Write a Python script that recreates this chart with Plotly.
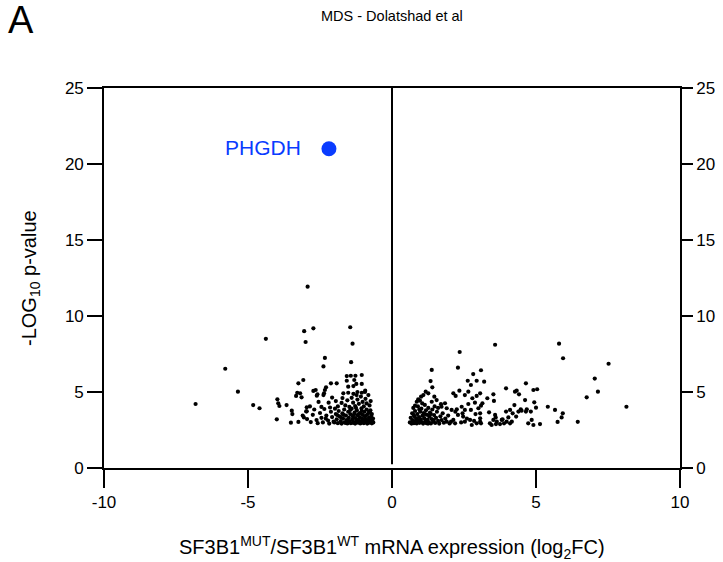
import plotly.graph_objects as go

# ---------------- data ----------------
left_x = [
    -6.82, -5.79, -5.35, -4.82, -4.60, -4.38, -3.98, -3.95, -3.91, -4.00, -3.66, -3.48, -3.46, -3.51,
    -3.29, -3.19, -3.14, -3.33, -3.25, -3.08, -2.93, -3.05, -2.73, -3.00, -1.45, -1.37, -2.33, -2.38,
    -1.42, -1.57, -1.43, -1.27, -1.05, -2.12, -1.92, -1.57, -1.31, -1.52, -1.34, -1.24, -1.05, -2.29,
    -2.33, -2.36, -2.73, -2.65, -2.59, -1.52, -1.34, -1.20, -1.05, -0.94, -2.08, -2.61, -2.38, -1.69,
    -1.23, -0.93, -3.25, -2.96, -2.96, -3.06,
    -2.85, -2.55, -2.45, -2.20, -2.15, -1.95, -1.88, -1.75, -1.72, -1.62, -1.55, -1.48, -1.40, -1.35,
    -1.28, -1.20, -1.15, -1.08, -1.02, -0.98, -0.92, -0.88, -0.82, -0.78, -0.74,
    -3.10, -2.98, -2.95, -2.82, -2.75, -2.70, -2.62, -2.58, -2.50, -2.45, -2.40, -2.35, -2.28, -2.22,
    -2.18, -2.12, -2.08, -2.03, -1.98, -1.95, -1.92, -1.88, -1.85, -1.82, -1.78, -1.75, -1.72, -1.70,
    -1.66, -1.64, -1.60, -1.58, -1.55, -1.52, -1.50, -1.48, -1.45, -1.43, -1.40, -1.38, -1.36, -1.33,
    -1.30, -1.28, -1.26, -1.24, -1.22, -1.20, -1.18, -1.16, -1.14, -1.12, -1.10, -1.08, -1.06, -1.04,
    -1.02, -1.00, -0.98, -0.96, -0.94, -0.92, -0.90, -0.88, -0.86, -0.84, -0.82, -0.80, -0.78, -0.76,
    -0.74, -0.72, -0.70, -0.68, -0.66, -0.65, -1.62, -1.35, -1.15, -0.95, -0.85, -0.75, -1.25, -1.45,
    -1.68, -2.00, -2.30, -1.90, -1.05, -0.90, -0.70, -1.32, -1.10, -1.52, -1.78, -0.80, -0.72,
]
left_y = [
    4.21, 6.53, 5.02, 4.14, 3.93, 8.50, 4.52, 4.26, 4.08, 3.20, 4.14, 3.77, 3.55, 2.98,
    4.95, 4.91, 4.65, 4.74, 5.57, 5.79, 11.93, 9.00, 9.19, 8.29, 9.26, 8.18, 7.24, 6.68,
    6.96, 6.05, 6.07, 6.07, 6.12, 5.57, 5.57, 5.74, 5.79, 5.35, 5.39, 5.53, 5.53, 5.31,
    5.13, 4.91, 5.07, 5.13, 4.85, 4.95, 4.88, 5.00, 4.95, 5.00, 4.63, 4.76, 4.80, 4.91,
    4.80, 5.09, 3.03, 3.99, 3.73, 3.33,
    4.05, 4.35, 4.02, 4.30, 3.98, 4.40, 4.05, 4.28, 4.60, 4.12, 4.45, 4.02, 4.62, 4.30,
    4.08, 4.50, 4.22, 4.70, 4.35, 4.05, 4.55, 4.25, 4.80, 4.12, 4.40,
    3.45, 3.72, 3.22, 3.02, 3.50, 3.85, 3.15, 2.95, 3.62, 3.30, 3.00, 3.88, 3.45, 3.12,
    2.92, 3.70, 3.35, 3.05, 3.90, 3.55, 3.20, 2.95, 3.75, 3.40, 3.08, 2.92, 3.60, 3.25,
    3.85, 3.00, 3.45, 3.15, 2.93, 3.70, 3.30, 3.05, 3.55, 2.95, 3.90, 3.20, 3.40, 3.02,
    3.65, 2.92, 3.28, 3.10, 3.80, 3.48, 2.98, 3.18, 3.60, 3.35, 2.93, 3.05, 3.92, 3.25,
    3.50, 3.12, 2.95, 3.70, 3.38, 3.02, 3.20, 3.85, 2.92, 3.55, 3.10, 3.30, 2.98, 3.65,
    3.15, 3.42, 2.94, 3.05, 3.25, 3.00, 2.97, 2.97, 3.08, 3.15, 3.00, 3.80, 3.95, 3.82,
    3.50, 3.00, 3.25, 3.48, 3.75, 3.45, 3.55, 3.52, 3.62, 3.10, 3.35, 3.70, 3.30,
]

right_x = [
    3.58, 5.80, 5.94, 7.52, 2.35, 2.29, 1.38, 1.34, 1.40, 2.82, 3.09, 2.94, 2.63, 2.74, 3.20,
    7.04, 7.15, 6.76, 8.14, 6.45, 4.65, 4.91, 5.04, 3.96, 4.27, 4.33, 4.41, 4.62, 4.94, 5.00,
    5.41, 5.66, 5.93, 5.89, 5.75, 3.52, 3.54, 3.31, 3.06, 3.09, 3.06, 3.09, 3.37, 3.58, 3.60,
    3.52, 3.40, 3.46, 3.64, 3.61, 3.96, 4.10, 4.19, 4.25, 4.31, 4.39, 4.47, 4.50, 4.68, 4.82,
    4.65, 3.81, 3.89, 3.98, 4.10, 4.16, 3.75, 3.84, 4.04, 4.73, 4.85, 4.91, 5.14, 3.06,
    1.26, 1.17, 1.09, 1.01, 0.91, 0.86, 0.97, 1.47, 1.55, 1.38, 2.13, 2.21, 2.34, 2.53, 2.65,
    2.79, 2.94, 3.14,
    1.84, 1.72, 1.90, 2.07, 2.25, 2.42, 2.53, 2.65, 2.74, 2.88, 3.00,
    2.29, 2.47, 2.53, 2.71, 2.77, 2.94, 3.06, 2.05, 2.19, 2.13,
    0.62, 0.65, 0.68, 0.70, 0.72, 0.74, 0.76, 0.78, 0.80, 0.82, 0.84, 0.86, 0.88, 0.90, 0.92,
    0.94, 0.96, 0.98, 1.00, 1.02, 1.04, 1.06, 1.08, 1.10, 1.12, 1.14, 1.16, 1.18, 1.20, 1.22,
    1.24, 1.26, 1.28, 1.30, 1.32, 1.35, 1.38, 1.40, 1.43, 1.46, 1.50, 1.53, 1.56, 1.60, 1.64,
    1.68, 1.72, 1.76, 1.80, 1.85, 1.90, 1.95, 2.00, 1.05, 0.95, 0.75, 1.15, 1.35, 0.70, 0.85,
    1.25, 1.45, 0.80, 1.60, 1.70, 1.48, 2.40, 2.60, 2.85, 2.90, 2.20, 2.45,
]
right_y = [
    8.11, 8.18, 7.22, 6.86, 7.63, 6.60, 6.45, 5.72, 5.31, 6.18, 6.43, 5.74, 5.74, 5.46, 5.68,
    5.88, 5.02, 4.65, 4.03, 3.04, 5.57, 5.13, 5.18, 5.24, 5.02, 5.09, 4.85, 4.47, 4.32, 3.97,
    4.03, 3.82, 3.60, 3.33, 3.03, 4.85, 4.41, 4.59, 4.91, 4.10, 3.05, 2.94, 3.66, 3.49, 3.33,
    3.16, 2.94, 2.83, 3.05, 2.89, 3.71, 3.82, 3.60, 4.14, 3.38, 3.71, 3.86, 3.77, 3.86, 3.71,
    3.71, 3.16, 2.94, 3.05, 2.94, 3.05, 2.89, 3.20, 3.33, 2.94, 3.16, 2.83, 2.89, 3.60,
    4.91, 5.02, 4.80, 4.69, 4.52, 4.36, 4.43, 4.69, 4.47, 4.36, 4.91, 4.74, 5.09, 4.80, 5.02,
    4.59, 4.74, 4.26,
    4.26, 4.03, 3.93, 3.82, 3.86, 4.03, 3.82, 4.21, 3.82, 4.30, 3.93,
    3.49, 3.38, 3.05, 3.16, 2.83, 2.94, 3.27, 3.05, 2.94, 3.16,
    3.00, 3.30, 2.92, 3.60, 3.15, 3.95, 2.95, 3.40, 3.75, 3.05, 3.25, 2.93, 3.55, 4.05, 3.12,
    3.35, 2.97, 3.70, 3.20, 3.90, 3.02, 3.45, 2.92, 3.62, 3.28, 4.15, 3.08, 3.80, 2.95, 3.50,
    3.18, 3.95, 3.00, 3.38, 3.65, 2.93, 3.22, 3.85, 3.05, 3.48, 2.96, 3.30, 3.70, 3.10, 2.92,
    3.40, 3.15, 3.60, 2.98, 3.25, 3.05, 3.45, 2.93, 4.25, 3.85, 3.50, 3.55, 3.55, 3.05, 3.15,
    2.92, 3.15, 4.10, 3.95, 4.20, 4.05, 3.00, 3.25, 3.10, 3.55, 3.70, 3.60,
]

hl_gene = ["PHGDH"]
hl_x = [-2.19]
hl_y = [21.0]

x_ticks = [-10, -5, 0, 5, 10]
x_ticktext = ["-10", "-5", "0", "5", "10"]
y_ticks = [0, 5, 10, 15, 20, 25]
y_ticktext = ["0", "5", "10", "15", "20", "25"]

FONT = "Liberation Sans, Arial, Helvetica, sans-serif"
BLUE = "#0a3cff"

fig = go.Figure()
fig.add_trace(go.Scatter(
    x=left_x + right_x, y=left_y + right_y, mode="markers",
    marker=dict(color="black", size=4.2, line=dict(width=0)),
    hoverinfo="x+y", showlegend=False,
))
fig.add_trace(go.Scatter(
    x=hl_x, y=hl_y, mode="markers",
    marker=dict(color=BLUE, size=15, line=dict(width=0)),
    showlegend=False,
))
# invisible trace to host the mirrored right y axis
fig.add_trace(go.Scatter(x=[0], y=[0], yaxis="y2", mode="markers",
                         marker=dict(opacity=0), showlegend=False, hoverinfo="skip"))

axis_common = dict(
    showline=True, linecolor="black", linewidth=1.6,
    ticks="outside", tickwidth=1.6, tickcolor="black",
    showgrid=False, zeroline=False, automargin=False,
    tickfont=dict(family=FONT, size=17, color="black"),
)

annotations = [
    dict(text="A", xref="paper", yref="paper", x=0, y=1, xanchor="left", yanchor="middle",
         xshift=-98, yshift=68, showarrow=False,
         font=dict(family=FONT, size=38, color="black")),
    dict(text="MDS - Dolatshad et al", xref="paper", yref="paper", x=0.5, y=1,
         xanchor="center", yanchor="middle", yshift=72, showarrow=False,
         font=dict(family=FONT, size=14.5, color="black")),
    dict(text="SF3B1<sup>MUT</sup>/SF3B1<sup>WT</sup> mRNA expression (log<sub>2</sub>FC)",
         xref="paper", yref="paper", x=0.5, y=0, xanchor="center", yanchor="middle",
         yshift=-79, showarrow=False,
         font=dict(family=FONT, size=20, color="black")),
    dict(text="-LOG<sub>10</sub> p-value", xref="paper", yref="paper", x=0, y=0.5,
         xanchor="center", yanchor="middle", xshift=-74, yshift=0, textangle=-90,
         showarrow=False, font=dict(family=FONT, size=20, color="black")),
]
for g, gx, gy in zip(hl_gene, hl_x, hl_y):
    annotations.append(dict(text=g, x=gx, y=gy, xref="x", yref="y", xanchor="right",
                            yanchor="middle", xshift=-26, yshift=1, showarrow=False,
                            font=dict(family=FONT, size=21, color=BLUE)))

fig.update_layout(
    width=723, height=562,
    margin=dict(l=104, r=43, t=88, b=94),
    paper_bgcolor="white", plot_bgcolor="white",
    font=dict(family=FONT, color="black"),
    xaxis=dict(range=[-10, 10], tickvals=x_ticks, ticktext=x_ticktext, mirror=True,
               ticklen=18, **axis_common),
    yaxis=dict(range=[0, 25], tickvals=y_ticks, ticktext=y_ticktext, ticklen=15, **axis_common),
    yaxis2=dict(range=[0, 25], tickvals=y_ticks, ticktext=y_ticktext, overlaying="y",
                side="right", anchor="x", ticklen=11, **axis_common),
    shapes=[dict(type="line", xref="x", yref="y", x0=0, x1=0, y0=0.25, y1=25,
                 line=dict(color="black", width=2))],
    annotations=annotations,
)

fig.write_html("out.html")
